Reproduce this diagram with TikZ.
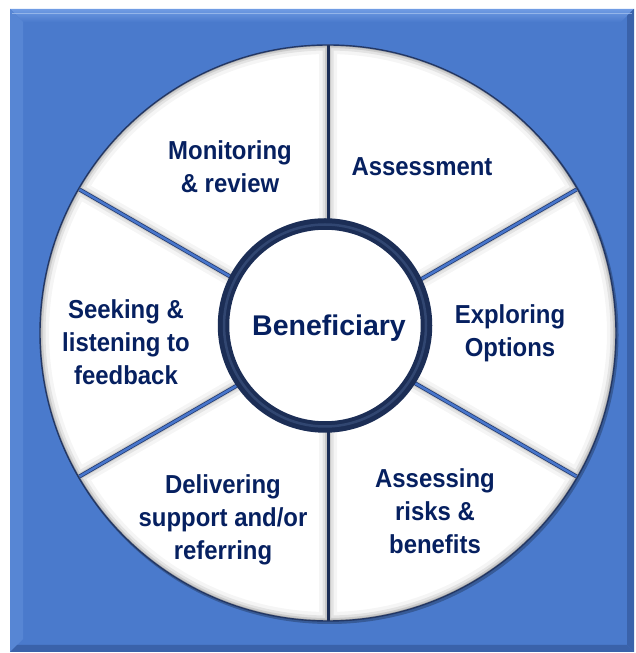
\documentclass[tikz,border=0pt]{standalone}
\usepackage{fontspec}
\setmainfont{Liberation Sans}
\newfontfamily\labelfont[FakeStretch=0.92]{Liberation Sans}
\usetikzlibrary{calc}

\definecolor{frameblue}{RGB}{74,122,204}
\definecolor{framelight}{RGB}{112,156,228}
\definecolor{framedark}{RGB}{58,98,170}
\definecolor{textnavy}{RGB}{6,32,96}
\definecolor{ringnavy}{RGB}{28,46,86}
\definecolor{ringlight}{RGB}{70,95,140}
\definecolor{divblue}{RGB}{72,118,204}
\definecolor{divedge}{RGB}{35,60,115}
\definecolor{rimnavy}{RGB}{35,55,100}

\begin{document}
\begin{tikzpicture}[x=1pt,y=1pt,
  seglabel/.style={text=textnavy, font=\labelfont\fontsize{26}{33}\selectfont\bfseries, align=center, inner sep=0pt},
  hublabel/.style={text=textnavy, font=\fontsize{28.5}{34}\selectfont\bfseries, inner sep=0pt},
  darkdivider/.style={draw=ringnavy, line width=3pt},
  bluedivider/.style={draw=divblue, line width=2.4pt},
  bluedivideredge/.style={draw=divedge, line width=4pt},
]
\useasboundingbox (0,0) rectangle (635,653);

% ---- bevelled blue frame ----
\fill[frameblue] (10,1) rectangle (634,644);
\shade[top color=framelight, bottom color=frameblue]
  (10,644) -- (634,644) -- (621,631) -- (23,631) -- cycle;
\fill[framelight!35!frameblue] (10,644) -- (23,631) -- (23,14) -- (10,1) -- cycle;
\fill[framedark] (634,644) -- (634,1) -- (627,8) -- (627,637) -- cycle;
\fill[framedark] (10,1) -- (634,1) -- (627,8) -- (17,8) -- cycle;
\draw[framelight!60!white, line width=1pt, opacity=0.7] (12,639) -- (632,639);

% ---- wheel ----
\coordinate (c) at (328,320);
\fill[black, opacity=0.25] ($(c)+(1.5,-2)$) circle (289);
\fill[white] (c) circle (288);

% inner bevel shading of each sector
\foreach \a in {30,90,...,330}{
  \begin{scope}
    \clip (c) -- ++(\a:288) arc[start angle=\a, delta angle=60, radius=288] -- cycle;
    \foreach \w/\o in {18/0.04, 11/0.07, 6/0.1, 2.5/0.16}{
      \draw[black, opacity=\o, line width=\w pt]
        (c) -- ++(\a:288) arc[start angle=\a, delta angle=60, radius=288] -- cycle;
    }
  \end{scope}
}

% sector dividers
\foreach \a in {90,270}{
  \coordinate (din\a) at ($(c)+(\a:90)$);
  \coordinate (dout\a) at ($(c)+(\a:288)$);
  \draw[darkdivider] (din\a) -- (dout\a);
}
\foreach \a in {30,150,210,330}{
  \coordinate (din\a) at ($(c)+(\a:90)$);
  \coordinate (dout\a) at ($(c)+(\a:287)$);
  \draw[bluedivideredge] (din\a) -- (dout\a);
  \draw[bluedivider] (din\a) -- (dout\a);
}

% wheel rim
\draw[rimnavy, line width=1.4pt] (c) circle (288);

% ---- hub ----
\coordinate (hc) at (325,327.5);
\fill[white] (hc) circle (101);
\draw[ringnavy, line width=11.5pt] (hc) circle (101.5);
\draw[ringlight, line width=2.5pt, opacity=0.5] (hc) circle (101);
\node[hublabel] (hub) at (329,325) {Beneficiary};

% ---- sector labels ----
\node[seglabel] (monitor) at (230,486) {Monitoring\\\& review};
\node[seglabel] (assess)  at (422,486) {Assessment};
\node[seglabel] (explore) at (510,320) {Exploring\\Options};
\node[seglabel] (risks)   at (435,142) {Assessing\\risks \&\\benefits};
\node[seglabel] (deliver) at (223,133) {Delivering\\support and/or\\referring};
\node[seglabel] (seeking) at (126,311) {Seeking \&\\listening to\\feedback};
\end{tikzpicture}
\end{document}
